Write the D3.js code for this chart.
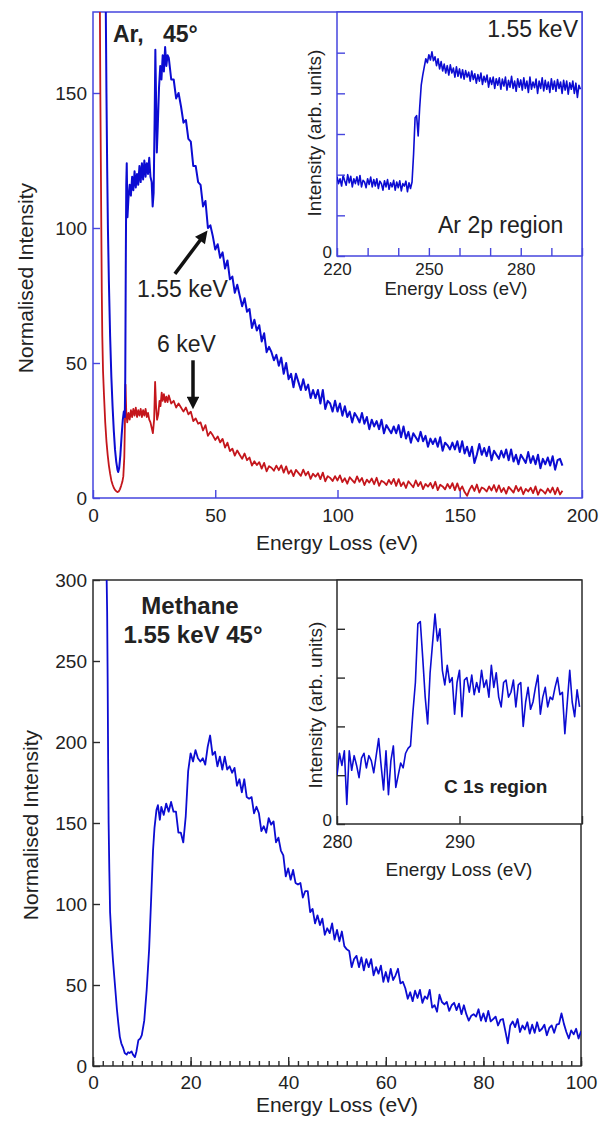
<!DOCTYPE html>
<html>
<head>
<meta charset="utf-8">
<script src="https://cdn.jsdelivr.net/npm/d3@7"></script>
<style>
body{margin:0;background:#fff;}
text{font-family:"Liberation Sans",Arial,Helvetica,sans-serif;fill:#222;}
</style>
</head>
<body>
<script>
/* ---------- data: Ar, 45 deg ---------- */
// steep elastic tail + low-loss features, [energy, intensity]
var arBlueHead = [[5.2,185],[5.5,150],[5.8,122],[6.1,100],[6.5,80],[7,60],[7.5,45],[8,34],[8.5,25],[9,18],[9.5,13.5],[10,10.5],[10.3,9.6],[10.7,11],[11.2,16],[11.7,23],[12.2,29],[12.6,32],[13,30],[13.2,45],[13.4,85],[13.6,116],[13.8,124],[14.1,104],[14.5,111],[15,116],[15.5,112],[16,119],[16.5,114],[17,121],[17.5,115],[18,120],[18.5,116],[19,123],[19.5,117],[20,124],[20.5,118],[21,125],[21.5,119],[22,124],[22.5,120],[23,126],[23.5,119],[24,117],[24.4,108],[24.8,113],[25.2,140],[25.5,166],[25.8,148],[26.1,128],[26.5,138],[27,152],[27.5,160],[28,155],[28.5,164],[29,158],[29.5,167],[30,160],[30.5,164]];
// 1 eV steps from 31 eV
var arBlueTail = [163,155,155,148,150,145,139,140,133,132,
  123,123,117,116,108,110,100,101,97,92,
  94,89,91,85,88,81,82,76,79,75,
  71,74,69,70,63,66,62,64,58,61,
  54,56,54,51,53,49,52,46,50,44,
  46,41,46,43,40,44,40,42,37,40,
  37,40,35,40,33,36,35,32,36,32,
  35,30.5,34,30,32,28,31.5,30,28,31.5,
  27.5,30,25.5,29,26.5,28.5,25.5,29,24,27,
  25.5,24,26.5,24,27,22.5,26.5,22,24.5,20.5,
  24,22.5,21,24.5,21,23,19,22,20,22,
  19,22.5,17.5,20.5,19.5,18,20.5,18,21,17,
  21,16.5,19,15.5,19,13,16,20,16,18.5,
  15.5,19,14,17.5,16,14.5,17.5,15,18,14,
  18,13.5,16,12.5,16,14.5,13,17,13,15.5,
  12.5,16,11,14.5,12.5,15,12,15.5,10.5,14,
  14.5,12];
var arRedHead = [[2.8,185],[3,150],[3.2,125],[3.4,100],[3.6,76],[3.8,60],[4.1,47],[4.5,38],[5,28],[5.5,21],[6,16],[6.5,12],[7,9],[7.5,6.5],[8,5],[8.5,3.8],[9,3],[9.5,2.5],[10,2.2],[10.5,2.4],[11,3.2],[11.5,4.5],[12,6],[12.4,8],[12.8,15],[13.1,30],[13.3,42],[13.6,32],[14,28],[14.5,31.5],[15,29],[15.5,32.5],[16,30],[16.5,33],[17,30.5],[17.5,33.5],[18,30],[18.5,32.5],[19,30.5],[19.5,33],[20,30],[20.5,32.5],[21,30.5],[21.5,33],[22,30],[22.5,31.5],[23,29],[23.5,28],[24,26],[24.5,24],[25,29],[25.4,43],[25.8,34],[26.2,29],[26.7,31],[27.2,36],[27.6,34],[28.1,39],[28.5,36],[29,38.5],[29.5,35.5],[30,37.5],[30.5,35.5]];
var arRedTail = [38,35,36,33.5,35,33.5,32,33.5,31,32,
  28.5,29.5,27.5,28,25,27,23,24.5,23.2,21.5,
  22.8,20.6,21.9,18.7,20.5,17.4,18.3,15.7,17.6,16,
  14.5,16.5,14,15,12,13.6,12.2,13.3,10.9,13,
  9.9,11.8,11.2,10.1,12,10.3,12.1,9.4,11.7,9,
  10.3,8.1,10.4,9.3,8.2,10.5,8.4,9.7,7.1,9,
  7.9,9.2,7,9.4,6.2,8.1,7.45,6.3,8.1,6.5,
  8.4,5.9,7.3,5.3,7.7,6.64,5.6,8,6,7.4,
  4.8,6.8,5.7,7.2,5.1,7.5,4.5,6.4,5.86,4.8,
  6.7,5.2,7.1,4.5,7,4.4,5.8,3.7,6.2,5.1,
  4,6.5,4.4,5.9,3.3,5.2,4.2,5.6,3.6,6,
  2.9,4.9,4.29,3.2,5.2,3.6,5.5,2.9,5.4,2.8,
  4.3,2.2,0.8,3.1,4.6,2.6,5,2,3.9,3.4,
  2.4,4.3,2.8,4.8,2.3,4.7,2.2,3.7,1.6,4.1,
  3.07,2,4.5,2.5,4,1.4,3.4,2.4,3.8,1.8,
  4.3,1.2,3.2,2.6,1.6,3.5,2,3.9,1.4,3.8,
  1.3,2.7];
var arTailStart = 31, arTailStep = 1;
// Ar 2p inset, 0.5 eV steps from 220 eV
var ar2p = [1.95,1.78,1.9,1.72,1.98,1.85,1.74,2.0,1.8,1.96,
  1.7,1.9,1.78,1.95,1.75,1.98,1.7,1.86,1.82,1.68,
  1.9,1.76,1.94,1.7,1.88,1.72,1.9,1.66,1.84,1.78,
  1.62,1.85,1.7,1.88,1.64,1.8,1.7,1.86,1.62,1.82,
  1.68,1.85,1.6,1.78,1.72,1.84,1.58,1.8,1.66,1.82,
  2.5,3.4,3.45,2.95,3.65,4.2,4.45,4.65,4.85,4.75,
  4.95,4.82,5.02,4.8,4.9,4.68,4.85,4.6,4.78,4.55,
  4.72,4.5,4.68,4.45,4.7,4.5,4.62,4.4,4.65,4.42,
  4.6,4.38,4.58,4.35,4.56,4.4,4.52,4.3,4.55,4.34,
  4.48,4.25,4.46,4.3,4.5,4.22,4.42,4.28,4.45,4.15,
  4.38,4.22,4.4,4.12,4.36,4.2,4.38,4.1,4.35,4.18,
  4.4,4.08,4.32,4.15,4.42,4.12,4.3,4.05,4.36,4.15,
  4.33,4.08,4.38,4.12,4.3,4.02,4.4,4.1,4.28,4.14,
  4.35,4.0,4.3,4.12,4.38,4.06,4.32,4.1,4.28,4.02,
  4.36,4.1,4.3,4.05,4.34,4.12,4.28,4.0,4.32,4.08,
  4.3,3.98,4.26,4.1,4.3,4.0,4.25,3.9,4.2,4.1];
var ar2pStart = 220, ar2pStep = 0.5;

/* ---------- data: methane 1.55 keV 45 deg ---------- */
var chHead = [[2.8,300],[2.9,280],[3.0,240],[3.1,190],[3.2,150],[3.35,120],[3.5,95],[3.8,78],[4.1,65],[4.5,50],[4.9,35],[5.2,26],[5.5,18],[5.8,14],[6.2,11],[6.5,8],[6.9,7],[7.2,8.5],[7.5,8],[7.9,9],[8.2,7],[8.6,5.5],[8.9,9],[9.3,16],[9.7,17],[10,19],[10.5,28],[11,47],[11.5,72],[11.9,102],[12.3,133],[12.6,147],[13,158],[13.3,161],[13.7,152]];
// 0.5 eV steps from 14 eV
var chTail = [160,155,162,157,163,157,157,144,144,138,
  154,182,193,188,195,190,188,190,186,197,
  204,192,194,185,191,183,191,183,185,181,
  184,173,177,169,177,166,165,166,156,160,
  156,145,148,144,153,149,151,138,141,133,
  130,117,122,115,121,113,112,113,104,108,
  108,95,97,88,93,87,91,81,85,82,
  88,78,84,77,83,74,72,71,61,66,
  68,61,67,59,66,61,66,56,61,57,
  62,52,58,52,60,53,56,60,51,52,
  48,41.5,45.5,40,46.5,42,47,39,43,41.5,
  47,36,37.5,33.5,44,39.5,38,39.5,34,37.5,
  39,34.5,38.5,32,37.5,32,28,31,32,30.5,
  35,28,32.5,27.5,34,27.5,29,30.5,25,28.5,
  29,21.5,14,25,27.5,24,29,21,25,22.5,
  27,20,25.5,20.5,27,21.5,23,25.5,19,23.5,
  25,20.5,25.5,26,32.5,26,21,17,22,19.5,
  23,17,21.5];
var chTailStart = 14, chTailStep = 0.5;
// C 1s inset, 0.2 eV steps from 280 eV
var c1s = [1.0,1.45,1.2,1.5,0.4,1.5,1.1,1.4,1.2,0.95,
  1.35,1.45,1.15,1.4,1.3,1.05,1.4,1.75,1.2,0.7,
  1.5,0.6,1.3,1.6,0.75,1.0,1.25,1.15,1.45,1.55,
  1.6,2.3,2.9,4.1,4.15,3.4,2.6,2.05,3.1,3.7,
  4.3,3.75,4.0,3.15,2.85,3.25,2.9,3.0,2.25,2.9,
  3.15,2.2,2.95,3.0,2.7,3.05,2.65,2.9,2.7,3.15,
  2.8,2.95,2.6,3.25,2.8,3.1,2.6,2.4,2.9,2.95,
  2.6,2.7,2.95,2.4,2.85,2.9,2.0,2.5,2.8,2.35,
  2.5,2.8,3.05,2.25,2.6,2.8,2.4,2.6,2.55,2.8,
  3.0,2.65,2.7,1.85,2.5,3.15,2.5,2.2,2.75,2.4];
var c1sStart = 280, c1sStep = 0.2;

/* ---------- axes ticks ---------- */
var arXTicks = [0, 50, 100, 150, 200];
var arYTicks = [0, 50, 100, 150];
var ar2pXTicks = [220, 230, 240, 250, 260, 270, 280, 290, 300];
var ar2pXLabels = [220, 250, 280];
var ar2pYTicks = [0, 1, 2, 3, 4, 5];
var chXMajor = [0, 20, 40, 60, 80, 100];
var chXMinorStep = 2;
var chYTicks = [0, 50, 100, 150, 200, 250, 300];
var c1sXTicks = [280, 290, 300];
var c1sXLabels = [280, 290];
var c1sYTicks = [0, 1, 2, 3, 4];

/* arrow annotations [from, to] in data units */
var arrow155 = [[33.5, 83], [47, 99.3]];
var arrow6 = [[40.9, 51], [40.9, 32.6]];

(function(){

    var blue = "#0c0cd2", red = "#c4161c";
    var frameBlue = "#4646de", frameDark = "#2b2b2b";
    var clipN = 0;

    var svg = d3.select("body").append("svg")
        .attr("width", 600)
        .attr("height", 1122);

    var defs = svg.append("defs");
    defs.append("marker")
        .attr("id", "head")
        .attr("viewBox", "0 0 10 10")
        .attr("refX", 3).attr("refY", 5)
        .attr("markerWidth", 4).attr("markerHeight", 3.6)
        .attr("orient", "auto")
        .append("path")
        .attr("d", "M0,0L10,5L0,10z")
        .style("fill", "#111");

    function series(head, start, step, tail){
        var pts = head.slice();
        tail.forEach(function(v, i){ pts.push([start + i * step, v]); });
        return pts;
    }

    function panel(box, xd, yd, col){
        var id = "clip" + (clipN++);
        defs.append("clipPath").attr("id", id).append("rect")
            .attr("x", box.left).attr("y", box.top)
            .attr("width", box.right - box.left)
            .attr("height", box.bottom - box.top);
        return {
            box: box, col: col, clip: "url(#" + id + ")",
            x: d3.scaleLinear().domain(xd).range([box.left, box.right]),
            y: d3.scaleLinear().domain(yd).range([box.bottom, box.top])
        };
    }

    function frame(p, fill){
        svg.append("rect")
            .attr("x", p.box.left).attr("y", p.box.top)
            .attr("width", p.box.right - p.box.left)
            .attr("height", p.box.bottom - p.box.top)
            .style("fill", fill)
            .style("stroke", p.col)
            .style("stroke-width", 1.5);
    }

    function styleAxis(g, col, fs){
        g.attr("font-family", null).attr("font-size", null);
        g.select(".domain").remove();
        g.selectAll(".tick line").style("stroke", col).style("stroke-width", 1.4);
        g.selectAll(".tick text").style("font-size", fs + "px").style("fill", "#222");
        return g;
    }

    function xAxis(p, vals, len, fmt, fs, pad){
        var g = svg.append("g")
            .attr("transform", "translate(0," + p.box.bottom + ")")
            .call(d3.axisBottom(p.x).tickValues(vals).tickSize(-len).tickPadding(pad).tickFormat(fmt));
        return styleAxis(g, p.col, fs);
    }

    function yAxis(p, vals, len, fmt, fs, pad){
        var g = svg.append("g")
            .attr("transform", "translate(" + p.box.left + ",0)")
            .call(d3.axisLeft(p.y).tickValues(vals).tickSize(-len).tickPadding(pad).tickFormat(fmt));
        return styleAxis(g, p.col, fs);
    }

    function curve(p, data, col, w){
        var line = d3.line()
            .x(function(d){ return p.x(d[0]); })
            .y(function(d){ return p.y(d[1]); });
        svg.append("path")
            .datum(data)
            .attr("clip-path", p.clip)
            .attr("d", line)
            .style("fill", "none")
            .style("stroke", col)
            .style("stroke-width", w)
            .style("stroke-linejoin", "round");
    }

    function label(x, y, s, size, opt){
        opt = opt || {};
        var t = svg.append("text")
            .attr("x", x).attr("y", y)
            .attr("text-anchor", opt.anchor || "start")
            .style("font-size", size + "px")
            .text(s);
        if (opt.bold) t.style("font-weight", "bold");
        if (opt.rotate) t.attr("transform", "rotate(-90," + x + "," + y + ")");
        return t;
    }

    function arrow(p, a){
        var x0 = p.x(a[0][0]), y0 = p.y(a[0][1]);
        var x1 = p.x(a[1][0]), y1 = p.y(a[1][1]);
        var L = Math.sqrt((x1 - x0) * (x1 - x0) + (y1 - y0) * (y1 - y0));
        var k = (L - 9.5) / L;   /* leave room for the head */
        svg.append("line")
            .attr("x1", x0).attr("y1", y0)
            .attr("x2", x0 + (x1 - x0) * k).attr("y2", y0 + (y1 - y0) * k)
            .attr("marker-end", "url(#head)")
            .style("stroke", "#111")
            .style("stroke-width", 3.5);
    }

    var fmt = d3.format("d");
    var only = function(list){ return function(d){ return list.indexOf(d) >= 0 ? fmt(d) : ""; }; };

    /* ===== Ar panel ===== */
    var pA = panel({left: 93, right: 582, top: 12, bottom: 498}, [0, 200], [0, 180], frameBlue);
    frame(pA, "none");
    xAxis(pA, arXTicks, 8, fmt, 19, 10.5);
    yAxis(pA, arYTicks, 7, fmt, 19, 6);
    curve(pA, series(arRedHead, arTailStart, arTailStep, arRedTail), red, 1.8);
    curve(pA, series(arBlueHead, arTailStart, arTailStep, arBlueTail), blue, 2);

    label(113, 42, "Ar,", 23, {bold: true});
    label(163, 42, "45°", 23, {bold: true});
    label(137, 297, "1.55 keV", 23);
    label(157, 352, "6 keV", 23);
    arrow(pA, arrow155);
    arrow(pA, arrow6);
    label(33, 278, "Normalised Intensity", 21, {anchor: "middle", rotate: true});
    label(337, 550, "Energy Loss (eV)", 21, {anchor: "middle"});

    /* inset Ar 2p */
    var pA2 = panel({left: 337, right: 582, top: 12, bottom: 256}, [220, 300], [0, 6], frameBlue);
    frame(pA2, "#fff");
    curve(pA2, series([], ar2pStart, ar2pStep, ar2p), blue, 1.6);
    xAxis(pA2, ar2pXTicks, 8, only(ar2pXLabels), 17, 7);
    yAxis(pA2, ar2pYTicks, 8, only([0]), 17, 5)
        .selectAll(".tick text").attr("dy", "0.1em");
    label(578, 37, "1.55 keV", 23, {anchor: "end"});
    label(438, 233, "Ar 2p region", 23);
    label(321, 133, "Intensity (arb. units)", 19, {anchor: "middle", rotate: true});
    label(456, 295, "Energy Loss (eV)", 18.5, {anchor: "middle"});

    /* ===== Methane panel ===== */
    var pB = panel({left: 93, right: 581, top: 580, bottom: 1066}, [0, 100], [0, 300], frameDark);
    frame(pB, "none");
    xAxis(pB, d3.range(0, 101, chXMinorStep), 5, function(){ return ""; }, 19, 9.5);
    xAxis(pB, chXMajor, 9, fmt, 19, 9.5);
    yAxis(pB, chYTicks, 7, fmt, 19, 6);
    curve(pB, series(chHead, chTailStart, chTailStep, chTail), blue, 1.8);

    label(190, 614, "Methane", 24, {anchor: "middle", bold: true});
    label(193, 643, "1.55 keV 45°", 24, {anchor: "middle", bold: true});
    label(38, 825, "Normalised Intensity", 21, {anchor: "middle", rotate: true});
    label(337, 1112, "Energy Loss (eV)", 21, {anchor: "middle"});

    /* inset C 1s */
    var pB2 = panel({left: 337, right: 582, top: 580, bottom: 824}, [280, 300], [0, 5], frameDark);
    frame(pB2, "#fff");
    curve(pB2, series([], c1sStart, c1sStep, c1s), blue, 1.6);
    xAxis(pB2, c1sXTicks, 8, only(c1sXLabels), 18, 11);
    yAxis(pB2, c1sYTicks, 8, only([0]), 17, 5)
        .selectAll(".tick text").attr("dy", "0.1em");
    label(444, 793, "C 1s region", 19, {bold: true});
    label(322, 705, "Intensity (arb. units)", 19, {anchor: "middle", rotate: true});
    label(459, 876, "Energy Loss (eV)", 19, {anchor: "middle"});

})();
</script>
</body>
</html>
